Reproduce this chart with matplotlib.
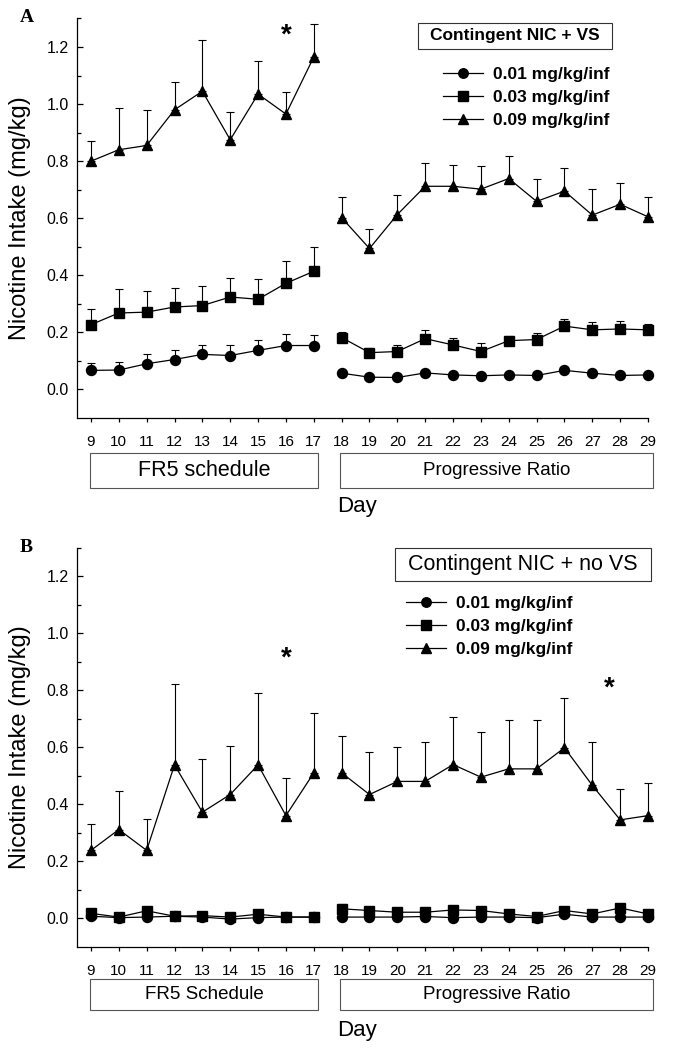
import matplotlib
matplotlib.use('Agg')
import matplotlib.pyplot as plt
import numpy as np
from matplotlib.lines import Line2D
from matplotlib.patches import Rectangle
from matplotlib.ticker import FixedLocator, FormatStrFormatter
import matplotlib.transforms as mtrans

plt.rcParams['font.family'] = ['Liberation Sans', 'DejaVu Sans']

# days
days_fr5 = [9, 10, 11, 12, 13, 14, 15, 16, 17]
days_pr = [18, 19, 20, 21, 22, 23, 24, 25, 26, 27, 28, 29]
dose_labels = ['0.01 mg/kg/inf', '0.03 mg/kg/inf', '0.09 mg/kg/inf']

# panel A : contingent NIC + VS  (mean, upper SEM)
a_low_fr5 = [0.067, 0.068, 0.090, 0.105, 0.123, 0.119, 0.137, 0.154, 0.154]
a_low_fr5_err = [0.027, 0.028, 0.034, 0.033, 0.034, 0.037, 0.035, 0.040, 0.038]
a_low_pr = [0.057, 0.043, 0.042, 0.058, 0.051, 0.048, 0.051, 0.049, 0.067, 0.057, 0.049, 0.051]
a_low_pr_err = [0.010, 0.008, 0.008, 0.010, 0.008, 0.008, 0.008, 0.008, 0.010, 0.008, 0.008, 0.008]

a_mid_fr5 = [0.227, 0.268, 0.271, 0.289, 0.294, 0.324, 0.316, 0.372, 0.414]
a_mid_fr5_err = [0.054, 0.083, 0.075, 0.068, 0.070, 0.065, 0.070, 0.078, 0.084]
a_mid_pr = [0.182, 0.129, 0.133, 0.178, 0.156, 0.133, 0.171, 0.175, 0.222, 0.209, 0.212, 0.209]
a_mid_pr_err = [0.019, 0.016, 0.024, 0.029, 0.025, 0.030, 0.018, 0.024, 0.026, 0.027, 0.028, 0.022]

a_high_fr5 = [0.800, 0.840, 0.855, 0.980, 1.045, 0.875, 1.035, 0.965, 1.165]
a_high_fr5_err = [0.070, 0.147, 0.124, 0.098, 0.181, 0.099, 0.117, 0.076, 0.116]
a_high_pr = [0.602, 0.494, 0.613, 0.712, 0.712, 0.702, 0.739, 0.659, 0.695, 0.611, 0.649, 0.605]
a_high_pr_err = [0.072, 0.070, 0.070, 0.083, 0.076, 0.082, 0.080, 0.078, 0.082, 0.091, 0.075, 0.069]

# panel B : contingent NIC + no VS
b_low_fr5 = [0.008, 0.003, 0.005, 0.008, 0.005, -0.002, 0.003, 0.005, 0.005]
b_low_fr5_err = [0.004] * 9
b_low_pr = [0.005, 0.005, 0.005, 0.007, 0.003, 0.005, 0.005, 0.003, 0.015, 0.005, 0.005, 0.005]
b_low_pr_err = [0.004] * 12

b_mid_fr5 = [0.018, 0.005, 0.027, 0.008, 0.010, 0.005, 0.015, 0.005, 0.005]
b_mid_fr5_err = [0.010, 0.005, 0.010, 0.005, 0.006, 0.005, 0.008, 0.004, 0.004]
b_mid_pr = [0.034, 0.028, 0.022, 0.022, 0.030, 0.028, 0.016, 0.007, 0.028, 0.016, 0.037, 0.016]
b_mid_pr_err = [0.018, 0.010, 0.010, 0.010, 0.010, 0.010, 0.008, 0.006, 0.010, 0.008, 0.015, 0.008]

b_high_fr5 = [0.239, 0.312, 0.239, 0.539, 0.373, 0.435, 0.539, 0.361, 0.511]
b_high_fr5_err = [0.091, 0.134, 0.111, 0.284, 0.187, 0.172, 0.253, 0.131, 0.211]
b_high_pr = [0.511, 0.435, 0.481, 0.481, 0.540, 0.496, 0.525, 0.525, 0.599, 0.467, 0.346, 0.361]
b_high_pr_err = [0.128, 0.149, 0.120, 0.138, 0.166, 0.158, 0.173, 0.173, 0.175, 0.154, 0.107, 0.114]

# significance stars (day, height)
a_stars = [(16, 1.257)]
b_stars = [(16, 0.929), (27.6, 0.823)]

markers = ['o', 's', '^']
msizes = [7.2, 7, 7.5]


def draw_series(ax, x, y, err, mk, ms):
    y = np.array(y)
    err = np.array(err)
    ax.errorbar(x, y, yerr=[np.zeros_like(err), err], fmt='none', ecolor='k',
                elinewidth=0.8, capsize=3.2, capthick=0.8, clip_on=False, zorder=2)
    ax.plot(x, y, color='k', lw=0.9, marker=mk, ms=ms, mfc='k', mec='k',
            clip_on=False, zorder=3)


def draw_panel(ax, series, stars, title, title_bold, box_rect, leg_xy,
               box_y, box_fs, fr5_name):
    for (fr5, fr5e, pr, pre), mk, ms in zip(series, markers, msizes):
        draw_series(ax, days_fr5, fr5, fr5e, mk, ms)
        draw_series(ax, days_pr, pr, pre, mk, ms)

    # asterisk glyph sits above the baseline, so drop the anchor a bit
    for sx, sy in stars:
        ax.text(sx, sy - 0.042, '*', ha='center', va='baseline', fontsize=20,
                fontweight='bold')

    ax.set_xlim(8.5, 29)
    ax.set_ylim(-0.1, 1.3)
    ax.spines['top'].set_visible(False)
    ax.spines['right'].set_visible(False)
    for s in ['left', 'bottom']:
        ax.spines[s].set_linewidth(0.9)
    ax.set_xticks(days_fr5 + days_pr)
    ax.yaxis.set_major_locator(FixedLocator([0, 0.2, 0.4, 0.6, 0.8, 1.0, 1.2]))
    ax.yaxis.set_minor_locator(FixedLocator([0.1, 0.3, 0.5, 0.7, 0.9, 1.1, 1.3]))
    ax.yaxis.set_major_formatter(FormatStrFormatter('%.1f'))
    ax.tick_params(axis='y', which='major', direction='in', length=4.5, width=0.9,
                   labelsize=11.5, pad=6)
    ax.tick_params(axis='y', which='minor', direction='in', length=3, width=0.9)
    ax.tick_params(axis='x', direction='out', length=3, width=0.9, labelsize=11, pad=9)

    # title box
    rx0, ry0, rw, rh = box_rect
    ax.add_patch(Rectangle((rx0, ry0), rw, rh, transform=ax.transAxes, fill=False,
                           ec='#333333', lw=0.8, clip_on=False))
    ax.text(rx0 + rw / 2, ry0 + rh / 2, title, transform=ax.transAxes, ha='center',
            va='center', fontsize=12.5 if title_bold else 15.5,
            fontweight='bold' if title_bold else 'normal')

    handles = [Line2D([], [], color='k', lw=0.9, marker=m, ms=s * 0.95)
               for m, s in zip(markers, msizes)]
    ax.legend(handles, dose_labels, loc='upper left', bbox_to_anchor=leg_xy,
              frameon=False, borderpad=0, borderaxespad=0, handlelength=2.3,
              handletextpad=0.6, labelspacing=0.45,
              prop={'weight': 'bold', 'size': 12.5})

    # schedule boxes
    trans = mtrans.blended_transform_factory(ax.transData, ax.transAxes)
    y0, y1 = box_y
    for (x0, x1), txt, fs in [((8.98, 17.15), fr5_name, box_fs[0]),
                              ((17.93, 29.17), 'Progressive Ratio', box_fs[1])]:
        ax.add_patch(Rectangle((x0, y0), x1 - x0, y1 - y0, transform=trans, fill=False,
                               ec='#555555', lw=0.8, clip_on=False))
        ax.text((x0 + x1) / 2, (y0 + y1) / 2, txt, transform=trans, ha='center',
                va='center', fontsize=fs)


fig = plt.figure(figsize=(6.78, 10.5), dpi=100)
ax_a = fig.add_axes([0.1136, 0.6019, 0.8422, 0.3805])
ax_b = fig.add_axes([0.1136, 0.0981, 0.8422, 0.3800])

series_a = [(a_low_fr5, a_low_fr5_err, a_low_pr, a_low_pr_err),
            (a_mid_fr5, a_mid_fr5_err, a_mid_pr, a_mid_pr_err),
            (a_high_fr5, a_high_fr5_err, a_high_pr, a_high_pr_err)]
series_b = [(b_low_fr5, b_low_fr5_err, b_low_pr, b_low_pr_err),
            (b_mid_fr5, b_mid_fr5_err, b_mid_pr, b_mid_pr_err),
            (b_high_fr5, b_high_fr5_err, b_high_pr, b_high_pr_err)]

draw_panel(ax_a, series_a, a_stars, 'Contingent NIC + VS', True,
           (0.597, 0.924, 0.340, 0.065), (0.641, 0.879),
           (-0.175, -0.0876), (15.5, 13.5), 'FR5 schedule')
draw_panel(ax_b, series_b, b_stars, 'Contingent NIC + no VS', False,
           (0.557, 0.917, 0.448, 0.083), (0.576, 0.880),
           (-0.158, -0.080), (13.5, 13.5), 'FR5 Schedule')

for ax, ypos in [(ax_a, -0.222), (ax_b, -0.21)]:
    ax.text(0.49, ypos, 'Day', transform=ax.transAxes, ha='center', va='center',
            fontsize=16)

fig.text(20 / 678, 0.5 * (0.6019 + 0.9824), 'Nicotine Intake (mg/kg)', rotation=90,
         ha='center', va='center', fontsize=17)
fig.text(20 / 678, 0.5 * (0.0981 + 0.4781), 'Nicotine Intake (mg/kg)', rotation=90,
         ha='center', va='center', fontsize=17)

fig.text(20 / 678, 1 - 22 / 1050, 'A', fontsize=14, fontweight='bold',
         family='Liberation Serif')
fig.text(20 / 678, 1 - 552 / 1050, 'B', fontsize=14, fontweight='bold',
         family='Liberation Serif')

fig.savefig('out.png', dpi=100)
